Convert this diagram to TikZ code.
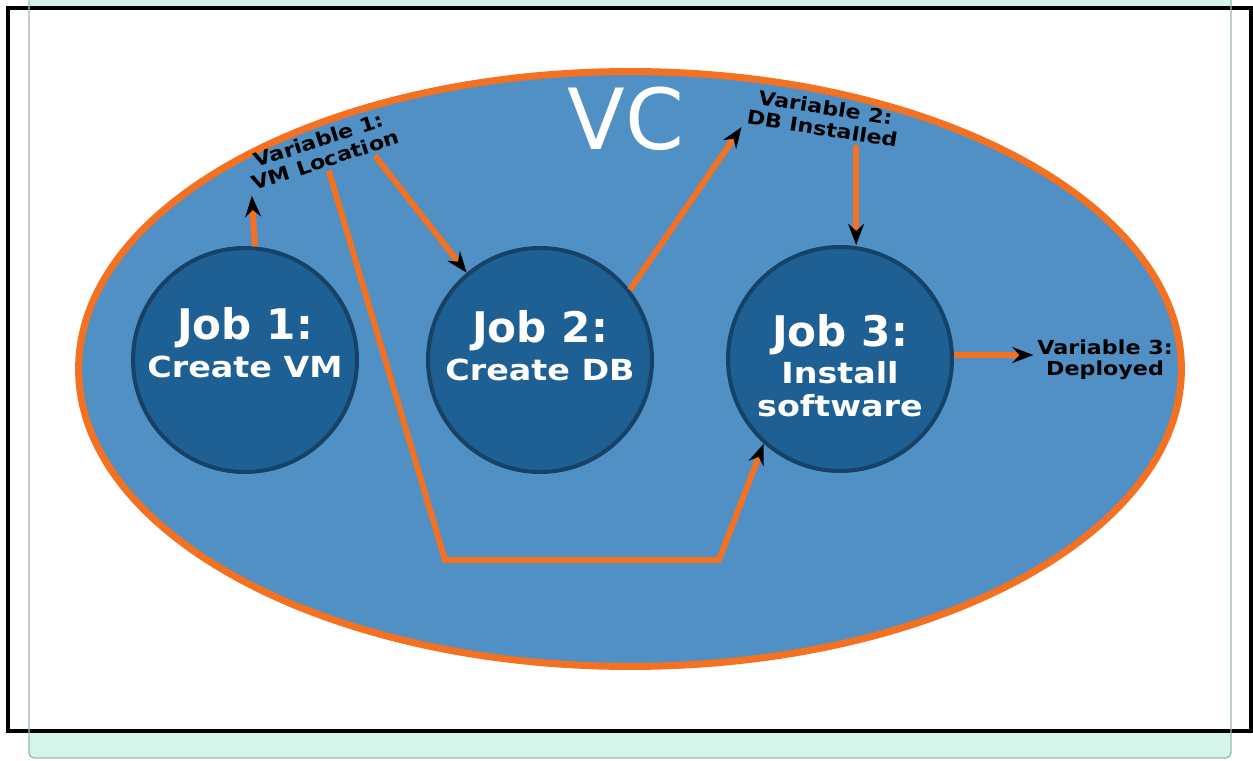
\documentclass[tikz,border=0pt]{standalone}
\usepackage{fontspec}
\setmainfont{DejaVu Sans}
\newfontfamily\widefont[FakeStretch=1.15]{DejaVu Sans}
\usepackage{xcolor}
\usepackage{tikz}
\usetikzlibrary{
    shapes.geometric,
    arrows.meta,
    positioning,
    calc
}

\definecolor{vcblue}{RGB}{80,144,196}
\definecolor{jobblue}{RGB}{31,96,148}
\definecolor{jobedge}{RGB}{22,66,104}
\definecolor{vcorange}{RGB}{243,113,33}
\definecolor{pagemint}{RGB}{213,244,234}
\definecolor{pagegrey}{RGB}{160,182,176}

\newcommand{\jobtitle}[1]{{\normalfont\bfseries\fontsize{24}{19}\selectfont #1}}

\begin{document}
\begin{tikzpicture}[
            x=0.02cm, y=-0.02cm,
            container/.style={ellipse, draw=vcorange, line width=4pt, fill=vcblue, inner sep=0pt,
                              minimum width=22.06cm, minimum height=11.9cm},
            title/.style={font=\fontsize{48}{48}\selectfont, text=white},
            job/.style={circle, draw=jobedge, line width=2.3pt, fill=jobblue, inner sep=0pt,
                        minimum size=4.48cm},
            jobtext/.style={text=white, align=center, font=\widefont\bfseries\fontsize{16.5}{19}\selectfont},
            varlabel/.style={align=center, inner sep=2pt, font=\widefont\bfseries\fontsize{11}{12}\selectfont},
            arr/.style={-{Stealth[length=12pt, width=9pt, inset=4pt, color=black]}, draw=vcorange, line width=3.4pt}
        ]
            \useasboundingbox (0,0) rectangle (1253,760);

            % page around the figure
            \fill[pagemint, rounded corners=3pt] (29,-20) rectangle (1231,758);
            \draw[line width=2.6pt, fill=white] (8,8) rectangle (1251,731);
            \draw[pagegrey, line width=0.8pt, rounded corners=3pt] (29,-20) rectangle (1231,758);

            \node[container] (vc) at (630,369) {};
            \node[title] (vctitle) at (626,119) {VC};

            \node[job, label={[jobtext, yshift=10pt]center:{\jobtitle{Job 1:}\\[2.5pt]Create VM}}] (job1) at (245,360) {};
            \node[job, label={[jobtext, yshift=8pt]center:{\jobtitle{Job 2:}\\[2.5pt]Create DB}}] (job2) at (540,360) {};
            \node[job, label={[jobtext, yshift=-4pt]center:{\jobtitle{Job 3:}\\[2pt]Install\\software}}] (job3) at (840,359) {};

            \node[varlabel, rotate=18] (var1) at (322,150) {Variable 1:\\VM Location};
            \node[varlabel, rotate=-9] (var2) at (824,118) {Variable 2:\\DB Installed};
            \node[varlabel] (var3) at (1105,360) {Variable 3:\\Deployed};

            \coordinate (bendL) at (445,560);
            \coordinate (bendR) at (719,560);
            \coordinate (dbdrop) at ($(var2.south)!0.45!(var2.south east)$);

            \draw[arr] (job1.85) -- (var1.south west);
            \draw[arr] ($(var1.south)!0.6!(var1.south east)$) -- (job2.130);
            \draw[arr] (var1.south) -- (bendL) -- (bendR) -- (job3.228);
            \draw[arr] (job2.38) -- (var2.south west);
            \draw[arr] (dbdrop) -- (dbdrop |- job3.north);
            \draw[arr] (job3.2) -- (job3.2 -| var3.west);
        \end{tikzpicture}
\end{document}
